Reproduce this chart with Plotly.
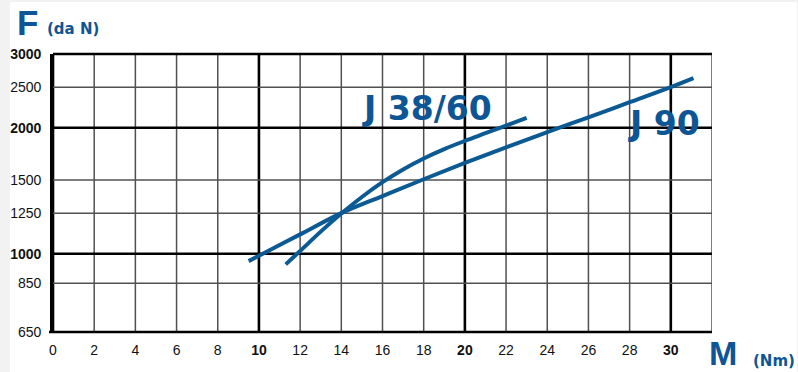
import plotly.graph_objects as go
import numpy as np

# ---- data ----
j3860_m = [11.3, 12, 13, 14, 15, 16, 17, 18, 19, 20, 21, 22, 23]
j3860_f = [943, 1015, 1129, 1247, 1366, 1482, 1590, 1689, 1778, 1860, 1940, 2023, 2110]

j90_m = [9.5, 10, 12, 14, 16, 18, 20, 22, 24, 26, 28, 30, 31.1]
j90_f = [960, 989, 1112, 1250, 1373, 1506, 1648, 1796, 1951, 2118, 2301, 2500, 2627]

x_ticks = [0, 2, 4, 6, 8, 10, 12, 14, 16, 18, 20, 22, 24, 26, 28, 30]
x_bold = [0, 10, 20, 30]
y_ticks = [650, 850, 1000, 1250, 1500, 2000, 2500, 3000]
y_bold = [650, 1000, 2000, 3000]
x_max = 32
y_min, y_max = 650, 3000

BLUE = "#0b5a93"
TXT_BLUE = "#0d5595"

# ---- geometry helpers ----
W, H = 798, 372
L, R, T, B = 53, 86, 54, 40
PW, PH = W - L - R, H - T - B


def px(xp):
    return (xp - L) / PW


def py(yp):
    return (H - B - yp) / PH


def ylog_paper(v):
    return (np.log10(v) - np.log10(y_min)) / (np.log10(y_max) - np.log10(y_min))


fig = go.Figure()

fig.add_trace(go.Scatter(x=j3860_m, y=j3860_f, mode="lines", line=dict(color=BLUE, width=4, shape="spline"),
                         name="J 38/60", showlegend=False, hoverinfo="skip"))
fig.add_trace(go.Scatter(x=j90_m, y=j90_f, mode="lines", line=dict(color=BLUE, width=4, shape="spline"),
                         name="J 90", showlegend=False, hoverinfo="skip"))

shapes = []
# card background
shapes.append(dict(type="rect", xref="paper", yref="paper", x0=px(10), x1=px(797), y0=py(2), y1=py(380),
                   fillcolor="white", line=dict(width=0), layer="below"))
# grid
for xv in x_ticks + [x_max]:
    bold = xv in x_bold
    shapes.append(dict(type="line", xref="x", yref="paper", x0=xv, x1=xv, y0=0, y1=1,
                       line=dict(color="#000000" if bold else "#505050", width=2.6 if bold else 1.5),
                       layer="between"))
for yv in y_ticks:
    bold = yv in y_bold
    yp = float(ylog_paper(yv))
    shapes.append(dict(type="line", xref="paper", yref="paper", x0=0 if yv != y_min else px(49), x1=1,
                       y0=yp, y1=yp,
                       line=dict(color="#000000" if bold else "#505050", width=2.6 if bold else 1.5),
                       layer="between"))

annotations = [
    dict(text="<b>F</b>", x=px(15), y=py(22), xanchor="left", yanchor="middle",
         font=dict(family="Liberation Sans", size=35, color=TXT_BLUE)),
    dict(text="<b>(da N)</b>", x=px(45), y=py(29), xanchor="left", yanchor="middle",
         font=dict(family="DejaVu Sans", size=15, color=TXT_BLUE)),
    dict(text="<b>M</b>", x=px(707), y=py(353), xanchor="left", yanchor="middle",
         font=dict(family="Liberation Sans", size=34, color=TXT_BLUE)),
    dict(text="<b>(Nm)</b>", x=px(751), y=py(361), xanchor="left", yanchor="middle",
         font=dict(family="DejaVu Sans", size=15, color=TXT_BLUE)),
    dict(text="<b>J 38/60</b>", x=px(360), y=py(108), xanchor="left", yanchor="middle",
         font=dict(family="DejaVu Sans", size=33, color=TXT_BLUE)),
    dict(text="<b>J 90</b>", x=px(626), y=py(123), xanchor="left", yanchor="middle",
         font=dict(family="DejaVu Sans", size=33, color=TXT_BLUE)),
]
for a in annotations:
    a.update(xref="paper", yref="paper", showarrow=False)

x_text = [f"<b>{v}</b>" if v in x_bold[1:] else str(v) for v in x_ticks]
y_text = [f"<b>{v}</b>" if v in (1000, 2000, 3000) else str(v) for v in y_ticks]

fig.update_layout(
    width=W, height=H,
    margin=dict(l=L, r=R, t=T, b=B, pad=0),
    paper_bgcolor="#f2f2f2",
    plot_bgcolor="white",
    shapes=shapes,
    annotations=annotations,
    hovermode=False,
    xaxis=dict(range=[0, x_max], tickvals=x_ticks, ticktext=x_text, showgrid=False, zeroline=False,
               showline=False, ticks="", ticklabelstandoff=8, automargin=False, fixedrange=True,
               tickfont=dict(family="Liberation Sans", size=14, color="#111111")),
    yaxis=dict(type="log", range=[np.log10(y_min), np.log10(y_max)], tickvals=y_ticks, ticktext=y_text,
               showgrid=False, zeroline=False, showline=True, linecolor="#000000", linewidth=2.6,
               ticks="", ticklabelstandoff=6, automargin=False, fixedrange=True,
               tickfont=dict(family="Liberation Sans", size=14, color="#111111")),
)

fig.write_html("out.html", config={"displayModeBar": False},
               post_script="document.body.style.margin='0';document.body.style.padding='0';")
